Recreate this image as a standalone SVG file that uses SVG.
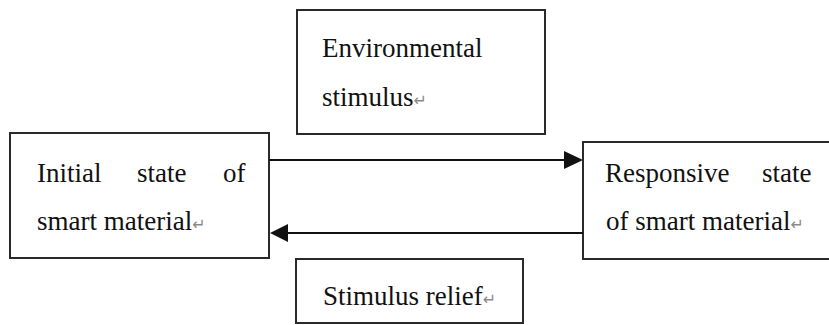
<svg xmlns="http://www.w3.org/2000/svg" width="829" height="325" viewBox="0 0 829 325">
  <defs>
    <style>
      .box { fill: #ffffff; stroke: #2a2a2a; stroke-width: 2; }
      .lbl { font-family: "Liberation Serif", "Times New Roman", "DejaVu Serif", serif; font-size: 27px; fill: #111111; }
      .mark { font-family: "DejaVu Sans", sans-serif; font-size: 16px; fill: #8a8a8a; }
      .conn { stroke: #111111; stroke-width: 2; fill: none; }
      .head { fill: #111111; }
    </style>
  </defs>
  <rect width="829" height="325" fill="#ffffff"/>

  <!-- initial state box -->
  <g id="initial-state">
    <rect class="box" x="10" y="133" width="259" height="125"/>
    <text class="lbl" x="37" y="182">Initial</text>
    <text class="lbl" x="137" y="182">state</text>
    <text class="lbl" x="223" y="182">of</text>
    <text class="lbl" x="37" y="230">smart material<tspan class="mark">↵</tspan></text>
  </g>

  <!-- environmental stimulus box -->
  <g id="environmental-stimulus">
    <rect class="box" x="297" y="10" width="248" height="124"/>
    <text class="lbl" x="322" y="57">Environmental</text>
    <text class="lbl" x="322" y="106">stimulus<tspan class="mark">↵</tspan></text>
  </g>

  <!-- responsive state box -->
  <g id="responsive-state">
    <rect class="box" x="583" y="142" width="260" height="117"/>
    <text class="lbl" x="605" y="182">Responsive</text>
    <text class="lbl" x="762" y="182">state</text>
    <text class="lbl" x="606" y="230">of smart material<tspan class="mark">↵</tspan></text>
  </g>

  <!-- stimulus relief box -->
  <g id="stimulus-relief">
    <rect class="box" x="296" y="259" width="227" height="64"/>
    <text class="lbl" x="323" y="305">Stimulus relief<tspan class="mark">↵</tspan></text>
  </g>

  <!-- connectors -->
  <g id="connectors">
    <line class="conn" x1="269" y1="160" x2="566" y2="160"/>
    <polygon class="head" points="583,160 564,151 564,169"/>
    <line class="conn" x1="583" y1="233" x2="286" y2="233"/>
    <polygon class="head" points="270,233 288,224 288,242"/>
  </g>
</svg>
